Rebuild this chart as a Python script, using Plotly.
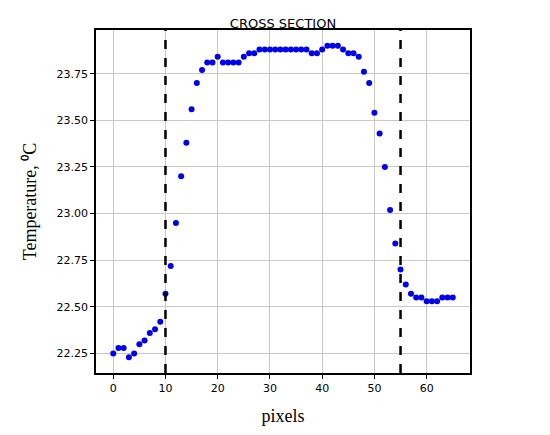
"""Cross-section temperature profile."""

import plotly.graph_objects as go

pixels = list(range(66))
temperature = [
    22.25, 22.28, 22.28, 22.23, 22.25, 22.30, 22.32, 22.36, 22.38, 22.42,
    22.57, 22.72, 22.95, 23.20, 23.38, 23.56, 23.70, 23.77, 23.81, 23.81,
    23.84, 23.81, 23.81, 23.81, 23.81, 23.84, 23.86, 23.86, 23.88, 23.88,
    23.88, 23.88, 23.88, 23.88, 23.88, 23.88, 23.88, 23.88, 23.86, 23.86,
    23.88, 23.90, 23.90, 23.90, 23.88, 23.86, 23.86, 23.84, 23.76, 23.70,
    23.54, 23.43, 23.25, 23.02, 22.84, 22.70, 22.62, 22.57, 22.55, 22.55,
    22.53, 22.53, 22.53, 22.55, 22.55, 22.55,
]
boundaries = [10, 55]
x_ticks = [0, 10, 20, 30, 40, 50, 60]
y_ticks = [22.25, 22.50, 22.75, 23.00, 23.25, 23.50, 23.75]

fig = go.Figure(
    go.Scatter(
        x=pixels, y=temperature, mode="markers",
        marker={"color": "#0000ee", "size": 6}, showlegend=False,
    )
)
for b in boundaries:
    fig.add_vline(x=b, line={"color": "black", "width": 2.5, "dash": "dash"})

axis_common = dict(
    showgrid=True, gridcolor="#c8c8c8", gridwidth=1, zeroline=False,
    showline=True, linecolor="black", linewidth=1.5, mirror=True,
    ticks="outside", tickcolor="black", ticklen=4,
    tickfont={"family": "DejaVu Sans", "size": 11, "color": "black"},
)
fig.update_xaxes(
    range=[-3.3, 68.3], tickvals=x_ticks,
    title={"text": "pixels", "font": {"family": "Liberation Serif", "size": 18, "color": "black"}},
    **axis_common,
)
fig.update_yaxes(
    range=[22.146, 23.984], tickvals=y_ticks, tickformat=".2f",
    title={"text": "Temperature, ⁰C", "font": {"family": "Liberation Serif", "size": 18, "color": "black"}},
    **axis_common,
)
fig.update_layout(
    width=550, height=435,
    margin={"l": 88, "r": 88, "t": 22, "b": 70},
    plot_bgcolor="white", paper_bgcolor="white",
    title={"text": "CROSS SECTION", "x": 0.5, "xref": "paper", "y": 0.955, "yanchor": "bottom",
           "font": {"family": "DejaVu Sans", "size": 13, "color": "black"}},
)
fig.write_html("out.html")
